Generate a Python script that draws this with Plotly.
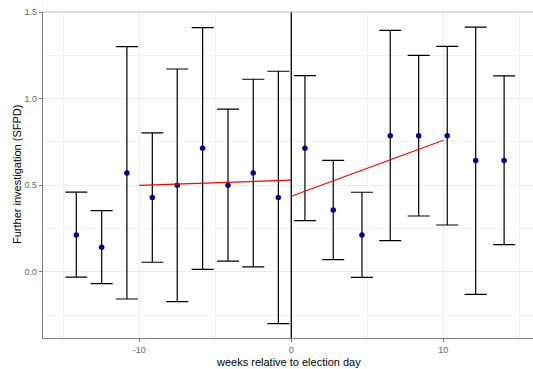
import plotly.graph_objects as go

weeks = [-14.14, -12.47, -10.81, -9.14, -7.5, -5.83, -4.16, -2.5, -0.85,
         0.9, 2.76, 4.65, 6.51, 8.38, 10.26, 12.13, 14.0]
estimate = [0.214, 0.143, 0.571, 0.429, 0.5, 0.714, 0.5, 0.571, 0.429,
            0.714, 0.357, 0.214, 0.786, 0.786, 0.786, 0.643, 0.643]
upper = [0.461, 0.354, 1.300, 0.802, 1.171, 1.410, 0.940, 1.112, 1.158,
         1.133, 0.644, 0.460, 1.394, 1.250, 1.302, 1.413, 1.131]
lower = [-0.030, -0.067, -0.156, 0.056, -0.171, 0.015, 0.062, 0.029, -0.298,
         0.296, 0.071, -0.031, 0.181, 0.323, 0.271, -0.129, 0.158]

fit_pre_x = [-10, 0]
fit_pre_y = [0.500, 0.530]
fit_post_x = [0, 10]
fit_post_y = [0.437, 0.760]

x_ticks = [-10, 0, 10]
y_ticks = [0.0, 0.5, 1.0, 1.5]

x_title = "weeks relative to election day"
y_title = "Further investigation (SFPD)"

fig = go.Figure()

fig.add_trace(go.Scatter(
    x=weeks, y=estimate, mode="markers",
    marker=dict(color="#00008B", size=5.5),
    error_y=dict(type="data", symmetric=False,
                 array=[u - e for u, e in zip(upper, estimate)],
                 arrayminus=[e - l for e, l in zip(estimate, lower)],
                 color="black", thickness=1.2, width=11),
    showlegend=False,
))

fig.add_trace(go.Scatter(x=fit_pre_x, y=fit_pre_y, mode="lines",
                         line=dict(color="red", width=1.2), showlegend=False))
fig.add_trace(go.Scatter(x=fit_post_x, y=fit_post_y, mode="lines",
                         line=dict(color="red", width=1.2), showlegend=False))

fig.add_shape(type="line", xref="x", yref="paper", x0=0, x1=0, y0=0, y1=1,
              line=dict(color="black", width=1.3))
fig.add_shape(type="line", xref="paper", yref="paper", x0=0, x1=1, y0=1, y1=1,
              line=dict(color="#bdbdbd", width=1.2))

fig.add_annotation(text=x_title, xref="paper", yref="paper", x=0.5, y=0,
                   yshift=-16, yanchor="top", showarrow=False,
                   font=dict(size=11, color="black"))
fig.add_annotation(text=y_title, xref="paper", yref="paper", x=0, y=0.5,
                   xshift=-26, xanchor="center", yanchor="middle",
                   textangle=-90, showarrow=False,
                   font=dict(size=11, color="black"))

fig.update_layout(
    width=533, height=369,
    margin=dict(l=43, r=0, t=12, b=31, autoexpand=False),
    plot_bgcolor="white", paper_bgcolor="white",
    font=dict(family="Liberation Sans, Arial, sans-serif", color="black"),
    xaxis=dict(range=[-16.33, 15.9], tickvals=x_ticks,
               ticktext=[str(v) for v in x_ticks], automargin=False,
               showgrid=True, gridcolor="#ebebeb", gridwidth=1,
               minor=dict(tickvals=[-15, -5, 5, 15], showgrid=True,
                          gridcolor="#f3f3f3", gridwidth=0.6),
               zeroline=False, showline=True, linecolor="#7f7f7f", linewidth=1.2,
               ticks="outside", ticklen=3, tickcolor="#7f7f7f",
               tickfont=dict(size=9, color="#666666")),
    yaxis=dict(range=[-0.381, 1.5], tickvals=y_ticks,
               ticktext=["0.0", "0.5", "1.0", "1.5"], automargin=False,
               showgrid=True, gridcolor="#ebebeb", gridwidth=1,
               minor=dict(tickvals=[-0.25, 0.25, 0.75, 1.25], showgrid=True,
                          gridcolor="#f3f3f3", gridwidth=0.6),
               zeroline=False, showline=True, linecolor="#7f7f7f", linewidth=1.2,
               ticks="outside", ticklen=3, tickcolor="#7f7f7f",
               tickfont=dict(size=9, color="#666666")),
)

fig.write_html("out.html", config={"displayModeBar": False},
               post_script="document.body.style.margin='0';document.body.style.padding='0';")
